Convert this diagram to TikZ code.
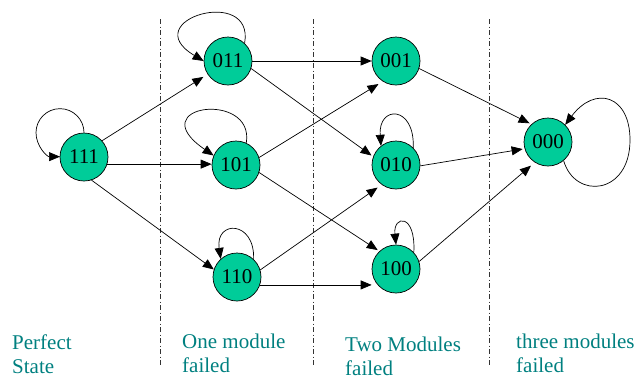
\documentclass[tikz,border=0pt]{standalone}
\usepackage{fontspec}
\setmainfont{Liberation Serif}
\usetikzlibrary{arrows.meta}
\definecolor{statefill}{RGB}{0,204,153}
\definecolor{labelteal}{RGB}{0,128,128}
\begin{document}
\begin{tikzpicture}[x=1pt,y=1pt,
  state/.style={circle,draw=black,line width=0.7pt,fill=statefill,
    minimum size=48pt,inner sep=0pt,font=\fontsize{21}{21}\selectfont},
  arr/.style={line width=0.7pt,-{Triangle[length=11pt,width=9pt]}},
  divider/.style={line width=0.8pt,black!80,
    dash pattern=on 5pt off 2.5pt on 1pt off 2.5pt},
  phase/.style={anchor=base west,align=left,inner sep=0pt,text=labelteal,
    font=\fontsize{21}{24}\selectfont}]
\useasboundingbox (0,0) rectangle (637,-381);

% column dividers
\draw[divider] (160,-19) -- (160,-367);
\draw[divider] (313,-19) -- (313,-367);
\draw[divider] (489,-19) -- (489,-367);

% states
\node[state] (n111) at (84,-157) {111};
\node[state] (n011) at (228,-61) {011};
\node[state] (n101) at (236,-165) {101};
\node[state] (n110) at (237,-277) {110};
\node[state] (n001) at (396,-61) {001};
\node[state] (n010) at (396,-165) {010};
\node[state] (n100) at (396,-269) {100};
\node[state] (n000) at (548,-142) {000};

% self loops
\draw[arr] (n111.north) arc[start angle=0,end angle=270,radius=24pt];
\draw[arr,shift={(n011.center)}] (n011.47) .. controls (27,76) and (-93,41) .. (n011.west);
\draw[arr,shift={(n101.center)}] (n101.65) .. controls (19,75) and (-96,60) .. (n101.157);
\draw[arr,shift={(n110.center)}] (n110.47) .. controls (18,57) and (-22,57) .. (n110.132);
\draw[arr,shift={(n010.center)}] (n010.45) .. controls (19,60) and (-18,60) .. (n010.128);
\draw[arr,shift={(n100.center)}] (n100.43) .. controls (20,56) and (-3,54) .. (n100.north);
\draw[arr,shift={(n000.center)}] (n000.-50) .. controls (27,-58) and (82,-53) .. (82,2)
  .. controls (82,47) and (47,57) .. (n000.45);

% transitions
\draw[arr,shorten >=5pt] (n111.42) -- (n011.-147);
\draw[arr] (n111.-17) -- (n111.-17 -| n101.west);
\draw[arr] (n111.-72) -- (n110.162);
\draw[arr] (n011.east) -- (n001.west);
\draw[arr,shorten >=2pt] (n011.-18) -- (n010.160);
\draw[arr,shorten >=5pt] (n101.18) -- (n001.-123);
\draw[arr,shorten >=2pt] (n101.-18) -- (n100.133);
\draw[arr,shorten >=5pt] (n110.17) -- (n010.-126);
\draw[arr] (n110.-19) -- (n110.-19 -| n100.west);
\draw[arr,shorten >=2pt] (n001.-18) -- (n000.133);
\draw[arr,shorten >=2pt] (n010.-2) -- (n000.-164);
\draw[arr,shorten >=5pt] (n100.18) -- (n000.-123);

% phase labels (base anchor sits on the last line)
\node[phase] (lbl0) at (12,-373) {Perfect\\State};
\node[phase] (lbl1) at (182,-372) {One module\\failed};
\node[phase] (lbl2) at (345,-375) {Two Modules\\failed};
\node[phase] (lbl3) at (516,-372) {three modules\\failed};
\end{tikzpicture}
\end{document}
